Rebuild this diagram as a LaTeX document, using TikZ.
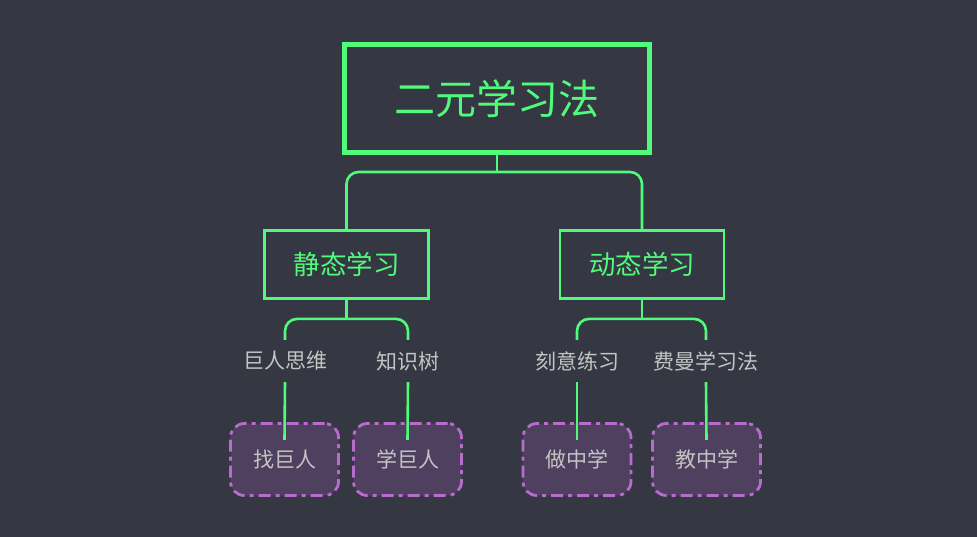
\documentclass[tikz,border=0pt]{standalone}
\usepackage{fontspec}
\setmainfont{Noto Sans CJK SC}
\usetikzlibrary{calc}
\definecolor{bgdark}{HTML}{353743}
\definecolor{leafgreen}{HTML}{50FA7B}
\definecolor{dashpurple}{HTML}{B86CCE}
\definecolor{boxfill}{HTML}{4E405E}
\definecolor{softgray}{HTML}{C4C4C4}
\tikzset{
  rootbox/.style={draw=leafgreen, line width=5pt, text=leafgreen, font=\fontsize{41}{41}\selectfont,
    minimum width=305pt, minimum height=108pt, inner sep=0pt},
  branchbox/.style={draw=leafgreen, line width=2.8pt, text=leafgreen, font=\fontsize{26.5}{26.5}\selectfont,
    minimum width=164pt, minimum height=68pt, inner sep=0pt},
  topic/.style={text=softgray, font=\fontsize{21}{21}\selectfont, minimum height=42pt, inner sep=0pt},
  leafbox/.style={draw=dashpurple, fill=boxfill, line width=2.8pt, rounded corners=14pt,
    dash pattern=on 12pt off 5pt on 4pt off 5pt, text=softgray, font=\fontsize{21}{21}\selectfont,
    minimum width=108pt, minimum height=72pt, inner sep=0pt},
  link/.style={draw=leafgreen, line width=2.6pt, rounded corners=12pt},
}
\begin{document}
\begin{tikzpicture}[x=1pt,y=1pt]
  \fill[bgdark] (0,0) rectangle (977,-537);
  \useasboundingbox (0,0) rectangle (977,-537);

  % root and the two branches
  \node[rootbox] (root) at (497,-98.5) {二元学习法};
  \node[branchbox] (stat) at (346.5,-264.5) {静态学习};
  \node[branchbox] (dyn) at (642,-264.5) {动态学习};

  % topics under each branch
  \node[topic] (t1) at (285,-361) {巨人思维};
  \node[topic] (t2) at (408,-361) {知识树};
  \node[topic] (t3) at (577,-361) {刻意练习};
  \node[topic] (t4) at (706,-361) {费曼学习法};

  % leaves
  \node[leafbox] (l1) at (284.5,-459.5) {找巨人};
  \node[leafbox] (l2) at (407.5,-459.5) {学巨人};
  \node[leafbox] (l3) at (577,-459.5) {做中学};
  \node[leafbox] (l4) at (706.5,-459.5) {教中学};

  % root to branches
  \draw[link] (root.south) -- ++(0,-17);
  \draw[link] (stat.north) |- ($(root.south)+(0,-17)$) -| (dyn.north);

  % branches to topics
  \draw[link] (stat.south) -- ++(0,-19);
  \draw[link] (t1.north) |- ($(stat.south)+(0,-19)$) -| (t2.north);
  \draw[link] (dyn.south) -- ++(0,-19);
  \draw[link] (t3.north) |- ($(dyn.south)+(0,-19)$) -| (t4.north);

  % topics to leaves
  \draw[link] (t1.south) -- ($(l1.center)+(0,19.5)$);
  \draw[link] (t2.south) -- ($(l2.center)+(0,19.5)$);
  \draw[link] (t3.south) -- ($(l3.center)+(0,19.5)$);
  \draw[link] (t4.south) -- ($(l4.center)+(0,19.5)$);
\end{tikzpicture}
\end{document}
